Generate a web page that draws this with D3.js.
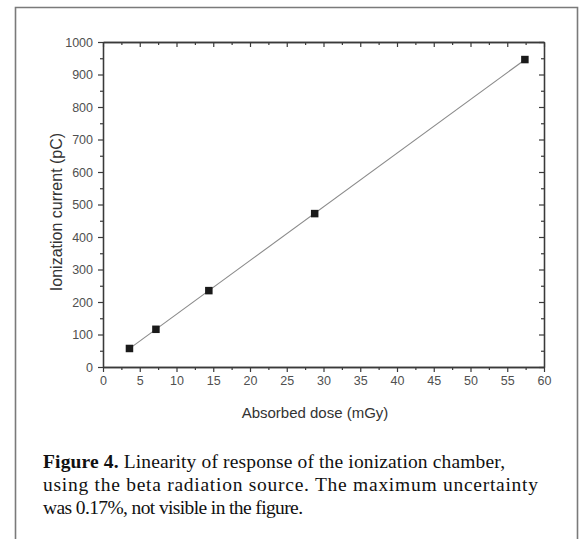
<!DOCTYPE html>
<html>
<head>
<meta charset="utf-8">
<script src="https://cdn.jsdelivr.net/npm/d3@7"></script>
<style>
  html, body { margin: 0; padding: 0; background: #fff; }
  svg { display: block; }
</style>
</head>
<body>
<svg id="fig" width="584" height="539"></svg>
<script>
// Absorbed dose (mGy) and collected ionization charge (pC)
const dose = [3.6, 7.2, 14.4, 28.8, 57.4];
const charge = [57, 116, 235, 472, 946];
const xTicks = [0, 5, 10, 15, 20, 25, 30, 35, 40, 45, 50, 55, 60];
const yTicks = [0, 100, 200, 300, 400, 500, 600, 700, 800, 900, 1000];
const xTitle = "Absorbed dose (mGy)";
const yTitle = "Ionization current (pC)";
const captionBold = "Figure 4.";
const captionLines = [
  " Linearity of response of the ionization chamber,",
  "using the beta radiation source. The maximum uncertainty",
  "was 0.17%, not visible in the figure."
];

const svg = d3.select("#fig");
const plotL = 103, plotR = 544, plotT = 42, plotB = 367;

const x = d3.scaleLinear().domain([0, 60]).range([plotL, plotR]);
const y = d3.scaleLinear().domain([0, 1000]).range([plotB, plotT]);

// outer frame
svg.append("path")
  .attr("d", "M15.5,560 V7.5 H577.5 V560")
  .attr("fill", "none").attr("stroke", "#7a7a7a").attr("stroke-width", 1.6);

const axisColor = "#3a3a3a";
const labelColor = "#505050";
const sans = "'Liberation Sans', Arial, sans-serif";

function styleAxis(g) {
  g.select(".domain").attr("stroke", axisColor).attr("stroke-width", 1.3);
  g.selectAll(".tick line").attr("stroke", axisColor).attr("stroke-width", 1.2);
  g.selectAll(".tick text").attr("fill", labelColor)
    .style("font-family", sans).style("font-size", "12.5px");
}

const xMinor = d3.range(2.5, 60, 5);
const yMinor = d3.range(50, 1000, 100);

// bottom axis: major + minor ticks, outward
svg.append("g").attr("transform", `translate(0,${plotB})`)
  .call(d3.axisBottom(x).tickValues(xMinor).tickSize(3).tickFormat("").tickSizeOuter(0))
  .call(styleAxis);
svg.append("g").attr("transform", `translate(0,${plotB})`)
  .call(d3.axisBottom(x).tickValues(xTicks).tickSize(5).tickPadding(4).tickFormat(d3.format("d")).tickSizeOuter(0))
  .call(styleAxis);

// left axis
svg.append("g").attr("transform", `translate(${plotL},0)`)
  .call(d3.axisLeft(y).tickValues(yMinor).tickSize(3).tickFormat("").tickSizeOuter(0))
  .call(styleAxis);
svg.append("g").attr("transform", `translate(${plotL},0)`)
  .call(d3.axisLeft(y).tickValues(yTicks).tickSize(5).tickPadding(5).tickFormat(d3.format("d")).tickSizeOuter(0))
  .call(styleAxis);

// top axis: inward ticks, no labels
svg.append("g").attr("transform", `translate(0,${plotT})`)
  .call(d3.axisBottom(x).tickValues(xMinor).tickSize(3).tickFormat("").tickSizeOuter(0))
  .call(styleAxis);
svg.append("g").attr("transform", `translate(0,${plotT})`)
  .call(d3.axisBottom(x).tickValues(xTicks).tickSize(5).tickFormat("").tickSizeOuter(0))
  .call(styleAxis);

// right axis: inward ticks, no labels
svg.append("g").attr("transform", `translate(${plotR},0)`)
  .call(d3.axisLeft(y).tickValues(yMinor).tickSize(3).tickFormat("").tickSizeOuter(0))
  .call(styleAxis);
svg.append("g").attr("transform", `translate(${plotR},0)`)
  .call(d3.axisLeft(y).tickValues(yTicks).tickSize(5).tickFormat("").tickSizeOuter(0))
  .call(styleAxis);

// least-squares linear fit through the measurements
const mx = d3.mean(dose), my = d3.mean(charge);
const slope = d3.sum(dose.map((d, i) => (d - mx) * (charge[i] - my))) /
              d3.sum(dose.map(d => (d - mx) * (d - mx)));
const intercept = my - slope * mx;
const xa = d3.min(dose), xb = d3.max(dose);
svg.append("line")
  .attr("x1", x(xa)).attr("y1", y(slope * xa + intercept))
  .attr("x2", x(xb)).attr("y2", y(slope * xb + intercept))
  .attr("stroke", "#8a8a8a").attr("stroke-width", 1.1);

// data markers
const s = 7.5;
svg.append("g").selectAll("rect")
  .data(dose.map((d, i) => [d, charge[i]]))
  .join("rect")
  .attr("x", d => x(d[0]) - s / 2)
  .attr("y", d => y(d[1]) - s / 2)
  .attr("width", s).attr("height", s)
  .attr("fill", "#1a1a1a");

// axis titles
svg.append("text")
  .attr("x", 315).attr("y", 418)
  .attr("text-anchor", "middle")
  .style("font-family", sans).style("font-size", "15px").attr("fill", "#333")
  .text(xTitle);
svg.append("text")
  .attr("transform", `translate(62,212) rotate(-90)`)
  .attr("text-anchor", "middle")
  .style("font-family", sans).style("font-size", "16px").attr("fill", "#333")
  .text(yTitle);

// caption
const serif = "'Liberation Serif', 'Times New Roman', serif";
const cap = svg.append("g")
  .style("font-family", serif).style("font-size", "19.5px").attr("fill", "#111");
const line1 = cap.append("text").attr("x", 43).attr("y", 468)
  .attr("textLength", 462).attr("lengthAdjust", "spacing");
line1.append("tspan").attr("font-weight", "bold").text(captionBold);
line1.append("tspan").text(captionLines[0]);
cap.append("text").attr("x", 43).attr("y", 491)
  .attr("textLength", 495).attr("lengthAdjust", "spacing").text(captionLines[1]);
cap.append("text").attr("x", 43).attr("y", 514)
  .attr("textLength", 260).attr("lengthAdjust", "spacing").text(captionLines[2]);
</script>
</body>
</html>
